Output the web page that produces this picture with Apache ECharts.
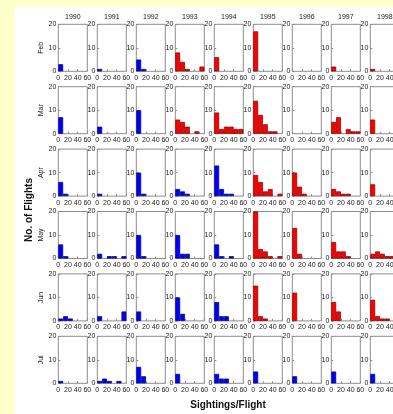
<!DOCTYPE html>
<html>
<head>
<meta charset="utf-8">
<script src="https://cdn.jsdelivr.net/npm/echarts@6/dist/echarts.min.js"></script>
<style>
  html, body { margin: 0; padding: 0; background: #ffffcc; }
  #main { width: 393px; height: 414px; }
</style>
</head>
<body>
<div id="main"></div>
<script>
// years across, months down
var years = ['1990', '1991', '1992', '1993', '1994', '1995', '1996', '1997', '1998'];
var months = ['Feb', 'Mar', 'Apr', 'May', 'Jun', 'Jul'];
var bins = ['0-10', '10-20', '20-30', '30-40', '40-50', '50-60'];

// flights per sightings bin, one list per year
var feb = [[3], [1], [5, 1], [8, 4, 1, 0, 0, 2], [6], [17], [], [2], [1]];
var mar = [[7], [3], [10], [6, 5, 3, 0, 1], [9, 2, 3, 3, 2, 2], [14, 8, 4, 1, 1], [], [5, 7, 0, 2, 1, 1], [6]];
var apr = [[6, 1], [1], [10, 1], [3, 2, 1], [13, 3, 1, 1], [9, 6, 2, 3, 0, 1], [10, 4, 1], [3, 2, 1, 1], [5]];
var may = [[6, 1], [2, 0, 1, 1, 0, 1], [10, 1], [10, 2, 2], [6, 1, 0, 1], [20, 4, 3, 1, 0, 1], [13, 2], [7, 3, 3, 1], [2, 3, 2, 1, 1]];
var jun = [[1, 2, 1], [2, 0, 0, 0, 0, 4], [4], [10, 3], [8, 2, 2], [15, 2, 1], [12], [8, 4], [9, 2, 1, 1]];
var jul = [[1], [1, 2, 1, 0, 1], [7, 3], [4], [4, 2, 2], [5], [3], [5], [4]];
var allMonths = [feb, mar, apr, may, jun, jul];
// index of first year drawn red, per month (9 = none)
var firstRed = [3, 3, 5, 5, 5, 9];

var colLeft = 58.3, colStep = 39, plotW = 29;
var rowTop = 24.3, rowStep = 62.4, plotH = 47;
var font = 'Liberation Sans, Arial, sans-serif';

var grids = [], xAxes = [], yAxes = [], series = [], graphics = [];

graphics.push({
  type: 'rect', shape: { x: 15, y: 7, width: 400, height: 420 },
  style: { fill: '#ffffff' }, z: -10
});

for (var m = 0; m < months.length; m++) {
  for (var y = 0; y < years.length; y++) {
    var k = grids.length;
    grids.push({
      left: colLeft + colStep * y, top: rowTop + rowStep * m,
      width: plotW, height: plotH,
      show: true, borderColor: '#8c8c8c', borderWidth: 1,
      backgroundColor: 'transparent', outerBoundsMode: 'none'
    });
    // bins for the bars (hidden)
    xAxes.push({
      type: 'category', gridIndex: k, data: bins, show: false, boundaryGap: true,
      position: 'top'
    });
    // 0..60 scale for the labels
    xAxes.push({
      type: 'value', gridIndex: k, min: 0, max: 60, interval: 20, position: 'bottom',
      axisLine: { show: false }, splitLine: { show: false },
      axisTick: { show: true, inside: true, length: 2, lineStyle: { color: '#8c8c8c' } },
      axisLabel: { fontSize: 7, margin: 3, color: '#222', fontFamily: font }
    });
    yAxes.push({
      type: 'value', gridIndex: k, min: 0, max: 20, interval: 10,
      axisLine: { show: false }, splitLine: { show: false },
      axisTick: { show: true, inside: true, length: 2, lineStyle: { color: '#8c8c8c' } },
      axisLabel: { fontSize: 7, margin: 2, color: '#222', fontFamily: font }
    });
    var red = y >= firstRed[m];
    series.push({
      type: 'bar', xAxisIndex: 2 * k, yAxisIndex: k,
      barCategoryGap: 0, silent: true, animation: false,
      itemStyle: {
        color: red ? '#ff0000' : '#0000ff',
        borderColor: red ? '#7a0000' : '#00007a', borderWidth: 0.7
      },
      data: allMonths[m][y].map(function (v) { return v === 0 ? '-' : v; })
    });
  }
  graphics.push({
    type: 'text', x: 41, y: rowTop + rowStep * m + plotH / 2, rotation: Math.PI / 2,
    style: { text: months[m], fontSize: 7, fontFamily: font, fill: '#222',
      textAlign: 'center', textVerticalAlign: 'middle' }
  });
}

years.forEach(function (yr, i) {
  graphics.push({
    type: 'text', x: colLeft + colStep * i + plotW / 2, y: 17,
    style: { text: yr, fontSize: 7, fontFamily: font, fill: '#222',
      textAlign: 'center', textVerticalAlign: 'middle' }
  });
});

graphics.push({
  type: 'text', x: 29, y: 210, rotation: Math.PI / 2,
  style: { text: 'No. of Flights', fontSize: 10, fontWeight: 'bold', fontFamily: font,
    fill: '#111', textAlign: 'center', textVerticalAlign: 'middle' }
});
graphics.push({
  type: 'text', x: 228, y: 405,
  style: { text: 'Sightings/Flight', fontSize: 10, fontWeight: 'bold', fontFamily: font,
    fill: '#111', textAlign: 'center', textVerticalAlign: 'middle' }
});

var chart = echarts.init(document.getElementById('main'));
chart.setOption({
  backgroundColor: '#ffffcc',
  animation: false,
  grid: grids,
  xAxis: xAxes,
  yAxis: yAxes,
  series: series,
  graphic: graphics
});
</script>
</body>
</html>
